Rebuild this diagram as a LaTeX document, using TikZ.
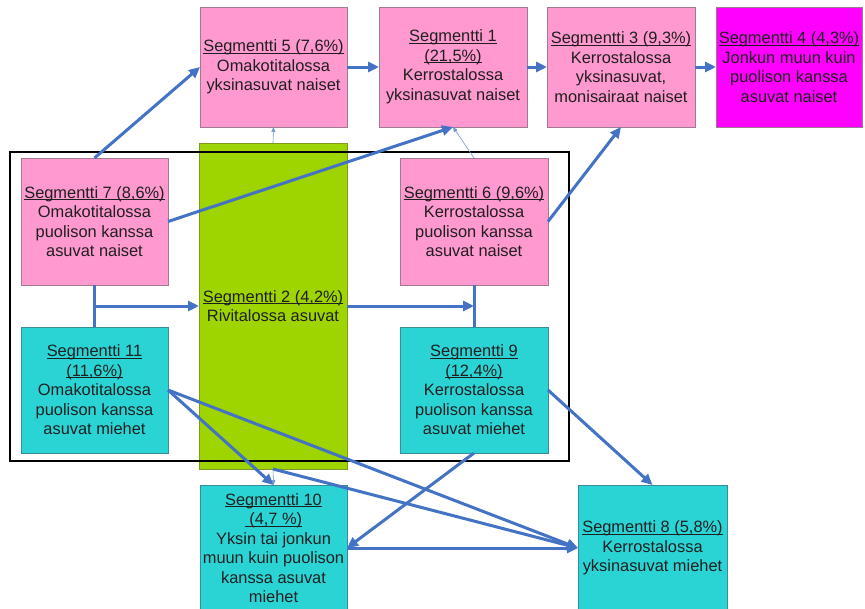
\documentclass[tikz,border=0pt]{standalone}
\usepackage{fontspec}
\setmainfont{Liberation Sans}
\usetikzlibrary{arrows.meta}
\definecolor{pinkc}{HTML}{FF99D0}
\definecolor{pinkd}{HTML}{A07A90}
\definecolor{magc}{HTML}{FF00FF}
\definecolor{cyanc}{HTML}{2AD4D4}
\definecolor{cyand}{HTML}{3A8C9C}
\definecolor{greenc}{HTML}{9ED400}
\definecolor{greend}{HTML}{7E9A20}
\definecolor{arrc}{HTML}{4472C4}
\newcommand\segul[1]{\setbox0\hbox{#1}\rlap{\rule[-1.9pt]{\wd0}{0.9pt}}\box0}
\begin{document}
\begin{tikzpicture}[x=1pt,y=-1pt,
  box/.style={inner sep=0pt, outer sep=0pt, align=center,
    font=\fontsize{16.4}{19.5}\selectfont, text=black!88, line width=0.7pt},
  pbox/.style={box, fill=pinkc, draw=pinkd, minimum width=147pt, minimum height=127pt},
  cbox/.style={box, fill=cyanc, draw=cyand, minimum width=147pt, minimum height=126pt},
  arr/.style={draw=arrc, line width=3pt, -{Triangle[length=11pt,width=10pt]}},
  plain/.style={draw=arrc, line width=3pt},
  thinarr/.style={draw=arrc!75, line width=0.6pt, -{Triangle[length=5pt,width=4pt]}}]
\useasboundingbox (0,0) rectangle (865,608);
\clip (0,0) rectangle (865,608);
\fill[white] (0,0) rectangle (865,608);

% green box and frame
\node[box, fill=greenc, draw=greend, minimum width=148pt, minimum height=326pt] (s2) at (273,306)
  {\segul{Segmentti 2 (4,2\%)}\\Rivitalossa asuvat};
\node[draw=black, line width=1.6pt, inner sep=0pt, minimum width=559pt, minimum height=309pt] (frame) at (289.5,306.5) {};

% top row
\node[pbox, minimum height=120pt] (s5) at (273.5,67)
  {\segul{Segmentti 5 (7,6\%)}\\Omakotitalossa\\yksinasuvat naiset};
\node[pbox, minimum width=148pt, minimum height=120pt] (s1) at (453,67)
  {\segul{Segmentti 1}\\\segul{(21,5\%)}\\Kerrostalossa\\yksinasuvat naiset};
\node[pbox, minimum width=148pt, minimum height=120pt] (s3) at (621,67)
  {\segul{Segmentti 3 (9,3\%)}\\Kerrostalossa\\yksinasuvat,\\monisairaat naiset};
\node[box, fill=magc, draw=pinkd, minimum width=146pt, minimum height=120pt] (s4) at (789,67)
  {\segul{Segmentti 4 (4,3\%)}\\Jonkun muun kuin\\puolison kanssa\\asuvat naiset};

% inside frame
\node[pbox] (s7) at (94.5,221.5)
  {\segul{Segmentti 7 (8,6\%)}\\Omakotitalossa\\puolison kanssa\\asuvat naiset};
\node[cbox] (s11) at (94.5,390)
  {\segul{Segmentti 11}\\\segul{(11,6\%)}\\Omakotitalossa\\puolison kanssa\\asuvat miehet};
\node[pbox, minimum width=148pt] (s6) at (474,221.5)
  {\segul{Segmentti 6 (9,6\%)}\\Kerrostalossa\\puolison kanssa\\asuvat naiset};
\node[cbox, minimum width=148pt] (s9) at (474,390)
  {\segul{Segmentti 9}\\\segul{(12,4\%)}\\Kerrostalossa\\puolison kanssa\\asuvat miehet};

% bottom row
\node[cbox] (s10) at (273.5,548)
  {\segul{Segmentti 10}\\\segul{\ (4,7 \%)}\\Yksin tai jonkun\\muun kuin puolison\\kanssa asuvat\\miehet};
\node[cbox, minimum width=149pt] (s8) at (652.5,548)
  {\segul{Segmentti 8 (5,8\%)}\\Kerrostalossa\\yksinasuvat miehet};

% connectors
\draw[arr] (s7.north) -- (s5.west);
\draw[arr] (s5.east) -- (s1.west);
\draw[arr] (s1.east) -- (s3.west);
\draw[arr] (s3.east) -- (s4.west);
\draw[arr] (s7.east) -- (s1.south);
\draw[thinarr] (s2.north) -- (s5.south);
\draw[thinarr] (s6.north) -- (s1.south);
\draw[arr] (s6.east) -- (s3.south);
\draw[plain] (s7.south) -- (s11.north);
\draw[arr] (s7.south |- s2.west) -- (s2.west);
\draw[plain] (s6.south) -- (s9.north);
\draw[arr] (s2.east) -- (s6.south |- s2.east);
\draw[thinarr] (s2.south) -- (s10.north);
\draw[arr] (s11.east) -- (s10.north);
\draw[arr] (s11.east) -- (s8.west);
\draw[arr] (s2.south) -- (s8.west);
\draw[arr] (s9.south) -- (s10.east);
\draw[arr] (s10.east) -- (s8.west);
\draw[arr] (s9.east) -- (s8.north);
\end{tikzpicture}
\end{document}
